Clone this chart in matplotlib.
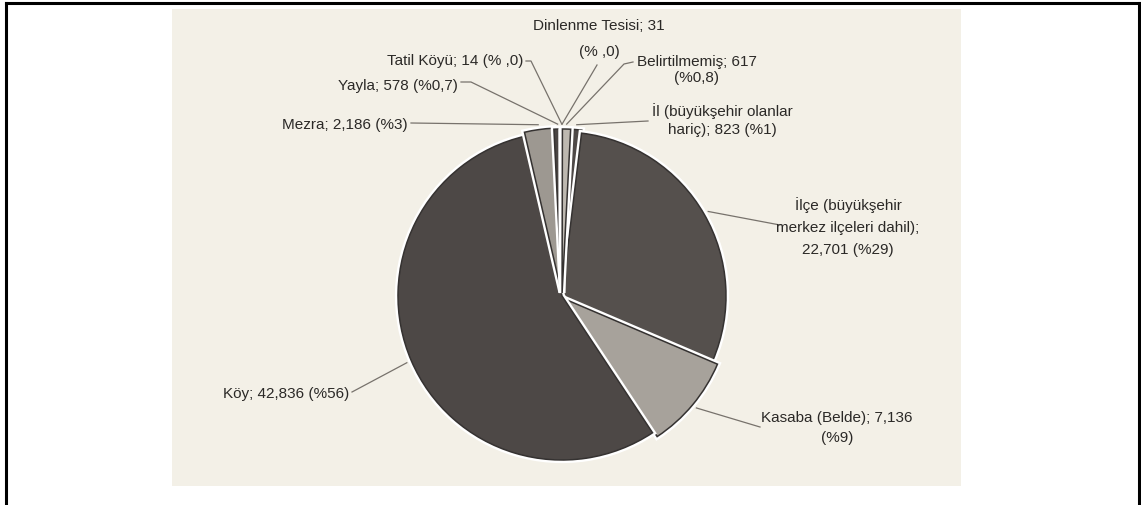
import matplotlib
matplotlib.use('Agg')
import matplotlib.pyplot as plt
import matplotlib.patheffects as pe
from matplotlib.patches import Rectangle
import numpy as np

# data (clockwise from the top)
names = ['İl (büyükşehir olanlar\nhariç)', 'İlçe (büyükşehir\nmerkez ilçeleri dahil)',
         'Kasaba (Belde)', 'Köy', 'Mezra', 'Yayla', 'Tatil Köyü', 'Dinlenme Tesisi', 'Belirtilmemiş']
counts = [823, 22701, 7136, 42836, 2186, 578, 14, 31, 617]
pcts = ['%1', '%29', '%9', '%56', '%3', '%0,7', '% ,0', '% ,0', '%0,8']
# separator after "name;" and between count and "(pct)"
name_seps = [' ', '\n', ' ', ' ', ' ', ' ', ' ', ' ', ' ']
pct_seps = [' ', ' ', '\n', ' ', ' ', ' ', ' ', '\n', '\n']

colors = ['#4e4947', '#55504d', '#a7a29b', '#4d4846', '#9d9891',
          '#4a4543', '#c9c5be', '#c9c5be', '#bdb8b0']
explode = [3, 0, 6, 0, 4, 3, 3, 3, 3]

H = 506
cx, cy, R = 562, H - 297, 164

# label layout in pixel coords (y from top)
layout = [
    dict(xy=(722, 120), ha='center', ls=1.3, path=[(648, 122)]),
    dict(xy=(848, 227), ha='center', ls=1.75, path=[(780, 226)]),
    dict(xy=(837, 428), ha='center', ls=1.6, path=[(760, 428)]),
    dict(xy=(349, 394), ha='right', ls=1.2, path=[(352, 393)]),
    dict(xy=(408, 125), ha='right', ls=1.2, path=[(411, 124)]),
    dict(xy=(458, 86), ha='right', ls=1.2, path=[(461, 83), (471, 83)]),
    dict(xy=(523, 61), ha='right', ls=1.2, path=[(526, 62), (531, 62)]),
    dict(xy=(599, 39), ha='center', ls=2.1, path=[(597, 66)]),
    dict(xy=(637, 70), ha='left', ls=1.2, path=[(633, 63), (624, 65)]),
]

family = ['Liberation Sans', 'DejaVu Sans']

fig = plt.figure(figsize=(11.41, 5.06), dpi=100)
ax = fig.add_axes([0, 0, 1, 1])

# scanned page background
ax.add_patch(Rectangle((172, H - 487), 961 - 172, 487 - 10, facecolor='#f3f0e7', edgecolor='none', zorder=0))

wedges, _ = ax.pie(counts, explode=explode, radius=R, center=(cx, cy), startangle=87,
                   counterclock=False, colors=colors,
                   wedgeprops=dict(edgecolor='#353231', linewidth=1.1,
                                   path_effects=[pe.Stroke(linewidth=4.5, foreground='white'), pe.Normal()]))

for w, name, c, p, s1, s2, lay in zip(wedges, names, counts, pcts, name_seps, pct_seps, layout):
    txt = '{0};{1}{2:,}{3}({4})'.format(name, s1, c, s2, p)
    tx, ty = lay['xy']
    ax.text(tx, H - ty, txt, ha=lay['ha'], va='center', multialignment='center',
            linespacing=lay['ls'], fontsize=11, color='#2b2927', family=family, zorder=5)
    ang = np.deg2rad(0.5 * (w.theta1 + w.theta2))
    ax_, ay_ = w.center[0] + 1.03 * w.r * np.cos(ang), w.center[1] + 1.03 * w.r * np.sin(ang)
    xs = [q[0] for q in lay['path']] + [ax_]
    ys = [H - q[1] for q in lay['path']] + [ay_]
    ax.plot(xs, ys, color='#77726c', lw=0.9, zorder=4)

ax.set_xlim(0, 1141)
ax.set_ylim(0, H)
ax.axis('off')

# outer frame
for xs, ys in [([6, 1139], [H - 4, H - 4]), ([6, 6], [0, H - 4]), ([1139, 1139], [0, H - 4])]:
    ax.plot(xs, ys, color='black', lw=2.2, clip_on=False, solid_capstyle='projecting')

fig.savefig('out.png', dpi=100)
